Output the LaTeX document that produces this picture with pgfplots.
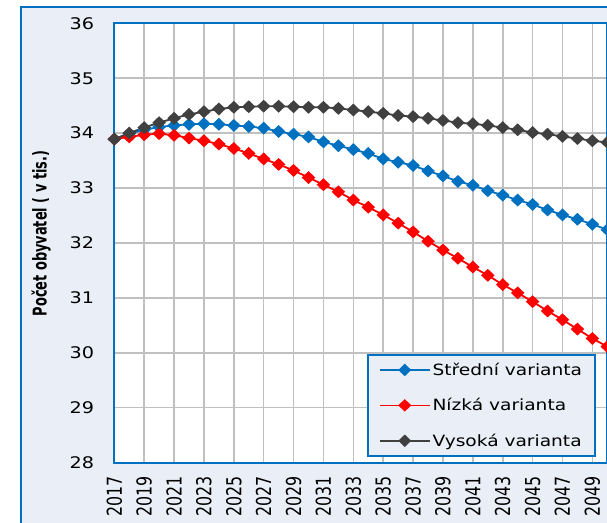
\documentclass[border=0pt]{standalone}
\usepackage{fontspec}
\setmainfont[FakeStretch=1.2]{DejaVu Sans}
\newfontfamily\rotfont[FakeStretch=0.77]{DejaVu Sans}
\newfontfamily\rotbold[FakeStretch=0.68]{DejaVu Sans Bold}
\usepackage{pgfplots}
\pgfplotsset{compat=1.18}
\definecolor{xblue}{RGB}{0,112,192}
\definecolor{xred}{RGB}{255,0,0}
\definecolor{xgray}{RGB}{64,64,64}
\definecolor{chartbg}{RGB}{234,239,247}
\definecolor{gridgray}{RGB}{192,192,192}

\pgfplotstableread{
year stred nizka vysoka
2017 33.89 33.89 33.89
2018 33.99 33.93 34.00
2019 34.06 33.97 34.10
2020 34.11 33.99 34.19
2021 34.14 33.96 34.27
2022 34.16 33.91 34.34
2023 34.17 33.86 34.39
2024 34.16 33.80 34.44
2025 34.14 33.72 34.47
2026 34.12 33.63 34.48
2027 34.09 33.53 34.49
2028 34.03 33.43 34.49
2029 33.98 33.32 34.48
2030 33.93 33.19 34.47
2031 33.84 33.06 34.47
2032 33.77 32.93 34.45
2033 33.70 32.78 34.42
2034 33.63 32.65 34.39
2035 33.53 32.51 34.36
2036 33.47 32.36 34.32
2037 33.41 32.20 34.30
2038 33.31 32.03 34.27
2039 33.22 31.87 34.23
2040 33.12 31.72 34.19
2041 33.05 31.56 34.17
2042 32.95 31.41 34.14
2043 32.87 31.24 34.10
2044 32.78 31.09 34.06
2045 32.70 30.93 34.01
2046 32.60 30.76 33.98
2047 32.51 30.60 33.94
2048 32.43 30.43 33.90
2049 32.34 30.26 33.86
2050 32.24 30.11 33.83
}\datatable

\begin{document}
\begin{tikzpicture}[x=1pt,y=1pt]
\useasboundingbox (0,0) rectangle (607,522);
\fill[white] (0,0) rectangle (607,522);
\filldraw[fill=chartbg, draw=xblue, line width=2pt] (21,-30) rectangle (680,515);
\begin{axis}[
  at={(114.3pt,59.5pt)}, anchor=south west,
  scale only axis, width=493pt, height=439.2pt,
  xmin=2017, xmax=2050, ymin=28, ymax=36,
  xtick={2017,2019,...,2049}, ytick={28,29,...,36},
  clip=false,
  axis background/.style={fill=white},
  axis line style={draw=xblue, line width=2pt},
  major tick length=0pt, tick style={draw=none},
  grid=major, grid style={draw=gridgray, line width=1.6pt},
  /pgf/number format/assume math mode=true,
  /pgf/number format/1000 sep={},
  yticklabel style={font=\fontsize{16}{16}\selectfont, anchor=east, inner sep=0pt, xshift=-20pt},
  xticklabel style={font=\rotfont\fontsize{20.6}{20.6}\selectfont, yshift=-13.5pt, rotate=90, anchor=east, inner sep=0pt},
  ylabel={Počet obyvatel ( v tis.)},
  ylabel style={at={(axis description cs:-0.1487,0.5214)}, anchor=center, font=\rotbold\fontsize{19}{19}\selectfont},
  legend cell align=left,
  legend image code/.code={\draw[line width=1.5pt, mark repeat=2, mark phase=2] plot coordinates {(0pt,0pt) (25pt,0pt) (50pt,0pt)};},
  legend style={at={(rel axis cs:0.5126,0.247)}, anchor=north west, fill=chartbg, draw=xblue, line width=2pt,
    font=\fontsize{15.5}{15.5}\selectfont, inner xsep=11pt, inner ysep=6pt, row sep=17.5pt},
  every axis plot/.append style={line width=1.8pt, mark=diamond*, mark size=5.2pt, mark options={xscale=1.4, solid}},
]
\addplot[color=xblue] table[x=year, y=stred] {\datatable};
\addlegendentry{Střední varianta}
\addplot[color=xred] table[x=year, y=nizka] {\datatable};
\addlegendentry{Nízká varianta}
\addplot[color=xgray] table[x=year, y=vysoka] {\datatable};
\addlegendentry{Vysoká varianta}
\end{axis}
\end{tikzpicture}
\end{document}
